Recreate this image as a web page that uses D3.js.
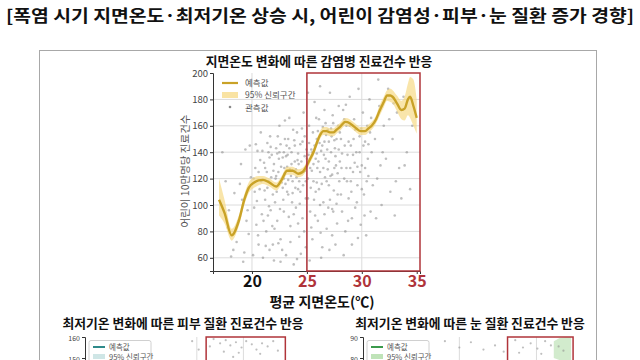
<!DOCTYPE html>
<html><head><meta charset="utf-8">
<script src="https://cdn.jsdelivr.net/npm/d3@7/dist/d3.min.js"></script>
<style>
html,body{margin:0;padding:0;background:#fff;}
svg{display:block;font-family:"Noto Sans CJK KR","Noto Sans",sans-serif;}
</style></head>
<body>
<svg id="c" width="640" height="360"></svg>
<script>
// ---------- DATA ----------
const mainTitle = "[폭염 시기 지면온도·최저기온 상승 시, 어린이 감염성·피부·눈 질환 증가 경향]";
const topTitle = "지면온도 변화에 따른 감염병 진료건수 반응";
const topXLabel = "평균 지면온도(℃)";
const topYLabel = "어린이 10만명당 진료건수";
const legendLabels = ["예측값", "95% 신뢰구간", "관측값"];
const topXTicks = [20, 25, 30, 35];
const topYTicks = [60, 80, 100, 120, 140, 160, 180, 200];
const heatThreshold = 25;

const predX = [17.0,17.5,18.15,18.8,19.3,19.7,20.2,20.6,21.0,21.6,22.2,22.7,23.2,23.7,24.2,24.6,25.0,25.3,25.6,25.9,26.2,26.5,26.8,27.1,27.4,27.7,28.0,28.5,28.9,29.2,29.5,29.9,30.3,30.6,30.9,31.3,31.6,32.0,32.3,32.6,32.8,33.2,33.6,33.9,34.2,34.4,34.7,35.0];
const predY = [104,94,77,88,104,113,117,118.6,119,117,114,119,126,126,123.7,125,130,135,140,147,153,156,156,155,155,157,159,163,162,160,158,156,156,158,160,165,171,178,183,183,182,177,172,173,180,182,175,166];
const ciLow  = [92,86,73,84,100,109,113,115,116,114,111,116,123,123,121,122,127,132,137,144,150,153,153,152,152,154,156,160,159,157,155,153,153,155,157,162,167,174,179,178,177,171,165,164,168,166,160,154];
const ciHigh = [120,104,82,92,108,117,121,122,122,120,117,122,129,129,127,128,133,138,143,150,156,159,159,158,158,160,162,166,165,163,161,159,159,161,163,168,175,182,187,188,187,183,179,182,192,197,195,180];

const observed = [
[17.3,140],[17.6,118],[17.9,96],[18.1,61],[18.3,66],[18.6,72],[18.8,88],[19.0,131],[19.1,104],[19.3,64],[19.4,142],[19.6,96],[19.7,78],[19.9,121],[18.4,109],[17.8,83],[19.2,57],[19.8,145],[18.9,116],[19.5,88],
[20.1,62],[20.2,98],[20.3,128],[20.4,85],[20.5,141],[20.6,70],[20.7,112],[20.8,155],[20.9,93],[21.0,60],[21.1,132],[21.2,104],[21.3,80],[21.4,147],[21.5,118],[21.6,66],[21.7,96],[21.8,138],[21.9,108],[22.0,58],[20.15,120],[20.45,103],[20.75,134],[21.05,88],[21.35,125],[21.65,152],[21.95,126],[20.55,77],[20.85,118],[21.25,69],[21.55,99],[21.85,84],[20.35,146],[21.15,111],[21.45,92],[21.75,121],[20.95,141],[20.25,110],[21.6,136],[21.9,70],
[22.1,102],[22.2,143],[22.3,88],[22.4,125],[22.5,160],[22.6,74],[22.7,117],[22.8,136],[22.9,95],[23.0,150],[23.1,62],[23.2,129],[23.3,108],[23.4,166],[23.5,84],[23.6,140],[23.7,118],[23.8,55],[23.9,133],[24.0,98],[24.1,155],[24.2,112],[24.3,76],[24.4,146],[24.5,124],[24.6,90],[24.7,170],[24.8,137],[24.9,105],[22.15,120],[22.35,152],[22.55,97],[22.75,66],[22.95,128],[23.15,145],[23.35,91],[23.55,122],[23.75,157],[23.95,113],[24.15,134],[24.35,101],[24.55,158],[24.75,80],[24.95,142],[22.25,110],[22.45,135],[22.65,129],[22.85,104],[23.05,116],[23.25,138],[23.45,127],[23.65,102],[23.85,149],[24.05,121],[24.25,131],[24.45,63],[24.65,115],[24.85,126],[22.05,82],[22.6,57],[23.5,72],[24.2,86],[24.9,68],[23.0,164],[22.4,71],[23.8,93],[24.6,148],[22.9,140],[24.1,59],[23.3,150],
[25.1,120],[25.2,160],[25.3,95],[25.4,142],[25.5,74],[25.6,131],[25.7,178],[25.8,110],[25.9,150],[26.0,88],[26.1,165],[26.2,125],[26.3,60],[26.4,145],[26.5,102],[26.6,172],[26.7,135],[26.8,82],[26.9,157],[27.0,115],[27.1,185],[27.2,140],[27.3,97],[27.4,162],[27.5,128],[27.6,70],[27.7,150],[27.8,108],[27.9,175],[28.0,133],[25.15,138],[25.35,113],[25.55,155],[25.75,92],[25.95,128],[26.15,147],[26.35,116],[26.55,138],[26.75,153],[26.95,98],[27.15,122],[27.35,168],[27.55,143],[27.75,86],[27.95,118],[25.25,58],[25.45,126],[25.65,104],[25.85,166],[26.05,133],[26.25,79],[26.45,159],[26.65,121],[26.85,142],[27.05,66],[27.25,152],[27.45,111],[27.65,130],[27.85,160],[25.1,185],[25.9,117],[26.6,93],[27.3,77],[27.0,148],[26.2,190],[25.4,83],[26.9,127],[27.7,101],[25.7,145],[26.4,68],
[28.1,150],[28.2,95],[28.3,172],[28.4,120],[28.5,80],[28.6,160],[28.7,138],[28.8,105],[28.9,182],[29.0,145],[29.1,70],[29.2,125],[29.3,165],[29.4,98],[29.5,140],[29.6,115],[29.7,188],[29.8,152],[29.9,85],[30.0,130],[30.1,170],[30.2,108],[30.3,148],[30.4,77],[30.5,160],[30.6,122],[30.7,180],[30.8,95],[30.9,140],[31.0,115],[28.15,128],[28.45,145],[28.75,88],[29.05,110],[29.35,132],[29.65,75],[29.95,158],[30.25,92],[30.55,135],[30.85,166],[28.35,62],[28.65,118],[29.25,150],[29.55,102],[29.85,125],[30.15,145],[30.45,118],[30.75,155],[28.95,128],[28.55,176],
[31.2,150],[31.4,120],[31.6,175],[31.8,100],[32.0,160],[32.2,135],[32.4,188],[32.6,110],[32.8,150],[33.0,92],[33.2,170],[33.4,128],[33.6,105],[33.8,182],[34.1,140],[34.4,112],[31.3,90],[31.9,140],[32.5,165],[33.1,118],[31.5,195],[32.9,177],[33.9,130],[34.6,160],[31.7,130],
[21.2,128],[21.4,113],[21.7,144],[22.0,131],[22.2,122],[22.3,139],[22.6,146],[22.8,113],[23.0,124],[23.1,137],[23.3,119],[23.4,143],[23.6,131],[23.7,109],[23.9,145],[24.0,127],[24.2,139],[24.3,118],[24.5,133],[24.7,125],[24.8,152],[25.0,135],[25.2,147],[25.3,128],[25.5,140],[25.6,118],[25.8,135],[26.0,156],[26.1,112],[26.3,141],[26.5,128],[26.7,162],[26.8,118],[27.0,133],[27.2,158],[27.3,123],[27.5,149],[27.6,137],[27.8,124],[28.0,155],[28.2,139],[28.4,165],[28.6,128],[28.8,148],[29.0,118],[29.2,138],[29.4,157],[29.6,129],[29.8,140],[30.0,112],[30.3,128],[30.6,146],[22.5,140],[23.2,110],[24.4,110],[25.1,105],[26.2,100],[27.4,95],[28.1,108],[29.1,90],[23.7,126],[24.9,118],[26.6,148],[27.9,142],[22.9,120],[21.5,140],[20.6,125],[25.9,139],[27.1,104],[28.9,160]
];

// bottom-left panel (skin disease, min temperature)
const skinTitle = "최저기온 변화에 따른 피부 질환 진료건수 반응";
const skinYTicks = [160, 150];
const skinBox = [21, 29.5];
const skinObs = [[19.5,158],[20.2,154],[21.8,159],[22.5,157],[23.1,158.5],[23.6,156],[24.2,157.5],[24.8,155],[25.3,158],[25.9,156.5],[26.4,154],[27.0,157],[27.6,155.5],[28.2,158],[22.9,153],[24.5,152.5],[26.8,152],[21.4,155.5],[28.7,153.5],[23.9,150.5]];
// bottom-right panel (eye disease, min temperature)
const eyeTitle = "최저기온 변화에 따른 눈 질환 진료건수 반응";
const eyeYTicks = [90, 80];
const eyeBox = [23, 29.8];
const eyeObs = [[16.5,88],[18.0,85],[19.2,87.5],[20.5,84],[21.7,86],[23.8,88.5],[24.6,85],[25.4,87],[26.1,84.5],[26.9,88],[27.5,86],[28.3,85.5],[24.2,82.5],[26.5,82],[22.6,83],[28.8,83.5]];
const eyeBandX = [27.8, 28.4, 29.0, 29.6];
const eyeBandLow = [80, 79, 78, 77];
const eyeBandHigh = [88, 89.5, 90, 90];

// ---------- DRAW ----------
const svg = d3.select("#c");
const FONT = '"Noto Sans CJK KR","Noto Sans",sans-serif';
const RED = "#b0343a";

svg.append("text").attr("x", 320).attr("y", 22).attr("text-anchor", "middle")
  .attr("font-size", 16.5).attr("font-weight", 700).attr("fill", "#111")
  .attr("textLength", 628).attr("lengthAdjust", "spacingAndGlyphs").text(mainTitle);

// outer frame
svg.append("rect").attr("x", 39.5).attr("y", 50.5).attr("width", 557).attr("height", 330)
  .attr("fill", "none").attr("stroke", "#a8a8a8").attr("stroke-width", 1);

// ---- top chart ----
const x = d3.scaleLinear().domain([16.45, 35.3]).range([213, 420]);
const y = d3.scaleLinear().domain([50, 200]).range([271, 73]);

svg.append("text").attr("x", 319).attr("y", 66).attr("text-anchor", "middle")
  .attr("font-size", 12.8).attr("font-weight", 700).attr("fill", "#111").text(topTitle);

// grid
const g = svg.append("g");
g.selectAll(".gx").data(topXTicks.filter(d => d < 35)).join("line")
  .attr("x1", d => x(d)).attr("x2", d => x(d)).attr("y1", y(200)).attr("y2", y(50))
  .attr("stroke", "#dcdcdc").attr("stroke-width", 1);
g.selectAll(".gy").data(topYTicks.filter(d => d < 200)).join("line")
  .attr("x1", x(16.45)).attr("x2", x(35.3)).attr("y1", d => y(d)).attr("y2", d => y(d))
  .attr("stroke", "#dcdcdc").attr("stroke-width", 1);

// observed points
g.selectAll(".pt").data(observed).join("circle")
  .attr("cx", d => x(d[0])).attr("cy", d => y(d[1])).attr("r", 1.3)
  .attr("fill", "#8a8a8a").attr("fill-opacity", 0.55);

// CI band
const idx = d3.range(predX.length);
g.append("path").datum(idx)
  .attr("d", d3.area().curve(d3.curveMonotoneX)
    .x(i => x(predX[i])).y0(i => y(ciLow[i])).y1(i => y(ciHigh[i])))
  .attr("fill", "#f6d77c").attr("fill-opacity", 0.65);
// prediction line
g.append("path").datum(idx)
  .attr("d", d3.line().curve(d3.curveMonotoneX).x(i => x(predX[i])).y(i => y(predY[i])))
  .attr("fill", "none").attr("stroke", "#c9a227").attr("stroke-width", 2.4);

// axes
const yAx = svg.append("g").attr("transform", `translate(${x(16.45)},0)`)
  .call(d3.axisLeft(y).tickValues(topYTicks).tickSize(3).tickPadding(2));
yAx.select(".domain").attr("stroke", "#333");
yAx.selectAll("text").attr("font-size", 9.5).attr("fill", "#444").attr("font-family", FONT);
yAx.selectAll(".tick line").attr("stroke", "#333");

const xAx = svg.append("g").attr("transform", `translate(0,${y(50)})`)
  .call(d3.axisBottom(x).tickValues(topXTicks).tickSize(3).tickPadding(2));
xAx.select(".domain").attr("stroke", "#333");
xAx.selectAll(".tick line").attr("stroke", "#333");
xAx.selectAll("text").attr("font-size", 16).attr("font-weight", 700).attr("font-family", FONT)
  .attr("fill", d => d >= heatThreshold ? RED : "#111");

// red highlight box
svg.append("rect").attr("x", x(heatThreshold)).attr("y", y(200))
  .attr("width", x(35.3) - x(heatThreshold)).attr("height", y(50) - y(200))
  .attr("fill", "none").attr("stroke", RED).attr("stroke-width", 1.5);

// axis labels
svg.append("text").attr("x", 322).attr("y", 307).attr("text-anchor", "middle")
  .attr("font-size", 14).attr("font-weight", 700).attr("fill", "#111").text(topXLabel);
svg.append("text").attr("transform", "translate(189,171) rotate(-90)").attr("text-anchor", "middle")
  .attr("font-size", 10.5).attr("fill", "#555").text(topYLabel);

// legend
const lg = svg.append("g");
lg.append("line").attr("x1", 222).attr("x2", 238).attr("y1", 83).attr("y2", 83)
  .attr("stroke", "#c9a227").attr("stroke-width", 2.2);
lg.append("rect").attr("x", 222).attr("y", 92).attr("width", 16).attr("height", 6)
  .attr("fill", "#f6d77c").attr("fill-opacity", 0.7);
lg.append("circle").attr("cx", 230).attr("cy", 107).attr("r", 1.3).attr("fill", "#8a8a8a");
lg.selectAll("text").data(legendLabels).join("text")
  .attr("x", 245).attr("y", (d, i) => 86 + i * 12.3)
  .attr("font-size", 8.5).attr("fill", "#555").text(d => d);

// ---- bottom panels ----
function bottomPanel(opt) {
  const bx = d3.scaleLinear().domain([8, 30]).range(opt.xr);
  const by = d3.scaleLinear().domain([opt.yt[1] - 5, opt.yt[0]]).range([337 + (opt.yt[0]-opt.yt[1]+5) * opt.ppu, 337]);
  svg.append("text").attr("x", opt.tx).attr("y", 328).attr("text-anchor", "middle")
    .attr("font-size", 12.8).attr("font-weight", 700).attr("fill", "#111").text(opt.title);
  const pg = svg.append("g");
  opt.grid.forEach(v => pg.append("line").attr("x1", bx(v)).attr("x2", bx(v)).attr("y1", 337).attr("y2", 360)
    .attr("stroke", "#dcdcdc"));
  if (opt.band) {
    pg.append("path").datum(d3.range(opt.band.x.length))
      .attr("d", d3.area().x(i => bx(opt.band.x[i])).y0(i => by(opt.band.lo[i])).y1(i => by(opt.band.hi[i])))
      .attr("fill", opt.bandColor).attr("fill-opacity", 0.7);
  }
  pg.selectAll(".o").data(opt.obs).join("circle").attr("cx", d => bx(d[0])).attr("cy", d => by(d[1]))
    .attr("r", 1.1).attr("fill", "#8a8a8a").attr("fill-opacity", 0.55);
  const ax = svg.append("g").attr("transform", `translate(${opt.xr[0]},0)`)
    .call(d3.axisLeft(by).tickValues(opt.yt).tickSize(3).tickPadding(2));
  ax.select(".domain").attr("stroke", "#333");
  ax.selectAll(".tick line").attr("stroke", "#333");
  ax.selectAll("text").attr("font-size", 7).attr("fill", "#444").attr("font-family", FONT)
    .attr("dy", "0.45em");
  // legend
  const lx = opt.xr[0] + 4;
  svg.append("rect").attr("x", lx).attr("y", 340.5).attr("width", 62).attr("height", 30)
    .attr("fill", "#fff").attr("fill-opacity", 0.85).attr("stroke", "#d0d0d0").attr("rx", 2);
  svg.append("line").attr("x1", lx + 4).attr("x2", lx + 16).attr("y1", 347).attr("y2", 347)
    .attr("stroke", opt.lineColor).attr("stroke-width", 2);
  svg.append("rect").attr("x", lx + 4).attr("y", 354).attr("width", 12).attr("height", 5)
    .attr("fill", opt.bandColor);
  svg.selectAll(null).data(legendLabels.slice(0, 2)).join("text")
    .attr("x", lx + 20).attr("y", (d, i) => 350 + i * 9.5).attr("font-size", 7.5).attr("fill", "#555").text(d => d);
  // red box
  svg.append("rect").attr("x", bx(opt.box[0])).attr("y", 337)
    .attr("width", bx(opt.box[1]) - bx(opt.box[0])).attr("height", 40)
    .attr("fill", "none").attr("stroke", RED).attr("stroke-width", 1.5);
}
bottomPanel({title: skinTitle, tx: 183, xr: [85, 290], yt: skinYTicks, ppu: 2.1, obs: skinObs, box: skinBox,
  grid: [20, 25], lineColor: "#2f8a8a", bandColor: "#cfe6e6"});
bottomPanel({title: eyeTitle, tx: 470, xr: [363, 575], yt: eyeYTicks, ppu: 2.1, obs: eyeObs, box: eyeBox,
  grid: [18, 26], lineColor: "#3b9a4c", bandColor: "#bfe3b8",
  band: {x: eyeBandX, lo: eyeBandLow, hi: eyeBandHigh}});
</script>
</body></html>
